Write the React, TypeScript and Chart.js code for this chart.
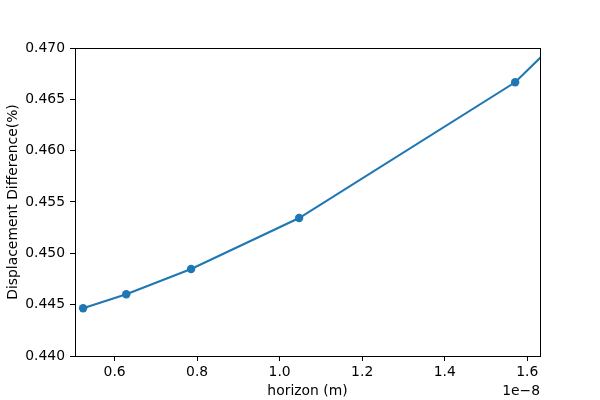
import React, { useEffect, useRef } from "react";
import { Chart, registerables } from "chart.js";

Chart.register(...registerables);

// horizon values in units of 1e-8 m
const horizon = [0.5236, 0.6283, 0.7854, 1.0472, 1.5708, 2.0944];
const displacementDiff = [0.44465, 0.44601, 0.44847, 0.45344, 0.46666, 0.4873];
const xTicks = [0.6, 0.8, 1.0, 1.2, 1.4, 1.6];
const yTicks = [0.44, 0.445, 0.45, 0.455, 0.46, 0.465, 0.47];
const xLabel = "horizon (m)";
const yLabel = "Displacement Difference(%)";
const xOffsetText = "1e\u22128";

const FONT = "'DejaVu Sans', sans-serif";
const FS = 13.9;

const framePlugin = {
  id: "frame",
  afterDraw(chart: any) {
    const { ctx, chartArea: a } = chart;
    ctx.save();
    ctx.strokeStyle = "#000";
    ctx.lineWidth = 1;
    ctx.strokeRect(Math.round(a.left) + 0.5, Math.round(a.top) + 0.5, Math.round(a.right - a.left), Math.round(a.bottom - a.top));
    ctx.fillStyle = "#000";
    ctx.font = `${FS}px ${FONT}`;
    ctx.textBaseline = "middle";
    ctx.textAlign = "center";
    ctx.fillText(xLabel, (a.left + a.right) / 2, 391);
    ctx.textAlign = "right";
    ctx.fillText(xOffsetText, a.right, 391);
    ctx.translate(13, (a.top + a.bottom) / 2);
    ctx.rotate(-Math.PI / 2);
    ctx.textAlign = "center";
    ctx.fillText(yLabel, 0, 0);
    ctx.restore();
  },
};

export default function App() {
  const ref = useRef<HTMLCanvasElement>(null);
  useEffect(() => {
    document.body.style.margin = "0";
    const chart = new Chart(ref.current!, {
      type: "line",
      data: {
        datasets: [
          {
            data: horizon.map((x, i) => ({ x, y: displacementDiff[i] })),
            borderColor: "#1f77b4",
            backgroundColor: "#1f77b4",
            borderWidth: 2.1,
            pointRadius: 4.2,
            pointHoverRadius: 4.2,
            pointBorderWidth: 0,
            tension: 0,
          },
        ],
      },
      options: {
        animation: false,
        responsive: false,
        events: [],
        layout: { padding: { top: 48, right: 60, left: 0, bottom: 0 } },
        plugins: { legend: { display: false }, tooltip: { enabled: false } },
        scales: {
          x: {
            type: "linear",
            min: 0.504,
            max: 1.631,
            afterBuildTicks: (s: any) => {
              s.ticks = xTicks.map((v) => ({ value: v }));
            },
            afterFit: (s: any) => {
              s.height = 44;
            },
            grid: { drawOnChartArea: false, drawTicks: true, tickLength: 5, color: "#000", tickWidth: 1 },
            border: { display: false },
            ticks: {
              color: "#000",
              font: { family: FONT, size: FS },
              padding: 3,
              maxRotation: 0,
              autoSkip: false,
              callback: (v: any) => Number(v).toFixed(1),
            },
          },
          y: {
            type: "linear",
            min: 0.44,
            max: 0.47,
            afterBuildTicks: (s: any) => {
              s.ticks = yTicks.map((v) => ({ value: v }));
            },
            afterFit: (s: any) => {
              s.width = 75;
            },
            grid: { drawOnChartArea: false, drawTicks: true, tickLength: 5, color: "#000", tickWidth: 1 },
            border: { display: false },
            ticks: {
              color: "#000",
              font: { family: FONT, size: FS },
              padding: 5,
              autoSkip: false,
              callback: (v: any) => Number(v).toFixed(3),
            },
          },
        },
      },
      plugins: [framePlugin],
    });
    return () => chart.destroy();
  }, []);
  return (
    <div style={{ width: 600, height: 400 }}>
      <canvas ref={ref} width={600} height={400} />
    </div>
  );
}
